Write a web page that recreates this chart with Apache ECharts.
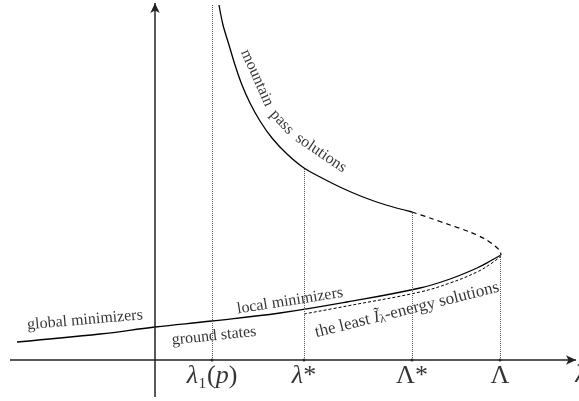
<!DOCTYPE html>
<html>
<head>
<meta charset="utf-8">
<script src="https://cdn.jsdelivr.net/npm/echarts@6/dist/echarts.min.js"></script>
<style>
  html, body { margin: 0; padding: 0; background: #fff; }
  #chart { width: 579px; height: 401px; }
</style>
</head>
<body>
<div id="chart"></div>
<script>
// values (origin = where the two axes cross)
var tickNames = ['{it|λ}{n|₁(}{it|p}{n|)}', '{it|λ}{n|*}', '{n|Λ*}', '{n|Λ}'];
var tickValues = [57, 149, 257, 345];
var guideTops = [355, 192, 148, 106];

// mountain pass branch (solid part, then dashed part up to the turning point)
var mountainX = [64, 68, 74, 80, 87, 95, 105, 117, 132, 149, 167, 187, 208, 231, 257];
var mountainY = [355, 335, 315, 295, 275, 257, 239, 222, 206, 192, 182, 172, 163, 155, 148];
var mountainDashX = [257, 275, 295, 315, 330, 340, 345, 346];
var mountainDashY = [148, 142, 135, 128, 121, 114, 109, 105];

// global / local minimizers branch
var minimizerX = [-138, -55, 0, 57, 125, 192, 265, 295, 322, 337, 346];
var minimizerY = [18, 26, 33, 39, 47, 58, 72, 81, 92, 100, 105];

// least energy solutions (dashed, just under the minimizers)
var leastX = [149, 192, 265, 295, 322, 337, 346];
var leastY = [46, 54, 68, 77, 88, 97, 104];

function pairs(xs, ys) {
  var out = [];
  for (var i = 0; i < xs.length; i++) out.push([xs[i], ys[i]]);
  return out;
}

var serifFont = 'Liberation Serif';
var rich = {
  it: { fontFamily: serifFont, fontStyle: 'italic', fontSize: 26, color: '#000' },
  n: { fontFamily: serifFont, fontSize: 26, color: '#000' }
};

// curve captions
var notes = [
  { text: 'global minimizers', at: [-70, 40], rot: 5 },
  { text: 'local minimizers', at: [135, 59], rot: 9 },
  { text: 'ground states', at: [59, 24], rot: 6 },
  { text: '{t|the least }{it|Ĩ}{s|λ}{t|-energy solutions}', at: [252, 50], rot: 14 },
  { text: 'mountain', at: [102, 282], rot: -66 },
  { text: 'pass', at: [127, 238], rot: -47 },
  { text: 'solutions', at: [166, 207], rot: -34 }
];

var chart = echarts.init(document.getElementById('chart'));

var guideLines = [];
for (var i = 0; i < tickValues.length; i++) {
  guideLines.push([{ coord: [tickValues[i], 0] }, { coord: [tickValues[i], guideTops[i]] }]);
}

var option = {
  animation: false,
  backgroundColor: '#fff',
  grid: { left: 0, right: 0, top: 0, bottom: 0 },
  xAxis: { type: 'value', min: -155, max: 424, show: false },
  yAxis: { type: 'value', min: -41, max: 360, show: false },
  series: [
    {
      name: 'guides',
      type: 'line',
      data: [],
      silent: true,
      markLine: {
        silent: true,
        symbol: 'none',
        label: { show: false },
        lineStyle: { type: 'dotted', color: '#555', width: 1 },
        data: guideLines
      }
    },
    {
      name: 'axes',
      type: 'line',
      data: [],
      silent: true,
      markLine: {
        silent: true,
        symbol: ['none', 'arrow'],
        symbolSize: [7, 10],
        label: { show: false },
        lineStyle: { type: 'solid', color: '#222', width: 1.5 },
        data: [
          [{ coord: [-145, 0] }, { coord: [421, 0] }],
          [{ coord: [0, -37] }, { coord: [0, 357] }]
        ]
      }
    },
    {
      name: 'mountain pass solutions',
      type: 'line',
      smooth: 0.3,
      showSymbol: false,
      lineStyle: { color: '#000', width: 1.3 },
      data: pairs(mountainX, mountainY)
    },
    {
      name: 'mountain pass (dashed)',
      type: 'line',
      smooth: 0.3,
      showSymbol: false,
      lineStyle: { color: '#000', width: 1.2, type: [5, 4] },
      data: pairs(mountainDashX, mountainDashY)
    },
    {
      name: 'minimizers',
      type: 'line',
      smooth: 0.4,
      showSymbol: false,
      lineStyle: { color: '#000', width: 1.3 },
      data: pairs(minimizerX, minimizerY)
    },
    {
      name: 'least energy',
      type: 'line',
      smooth: 0.4,
      showSymbol: false,
      lineStyle: { color: '#000', width: 1, type: [3, 2] },
      data: pairs(leastX, leastY)
    },
    {
      name: 'ticks',
      type: 'scatter',
      symbolSize: 3,
      itemStyle: { color: '#000' },
      label: {
        show: true,
        position: 'bottom',
        distance: 2,
        fontSize: 26,
        formatter: function (p) { return tickNames[p.dataIndex]; },
        rich: rich
      },
      data: pairs(tickValues, [0, 0, 0, 0])
    },
    {
      name: 'axis name',
      type: 'scatter',
      symbolSize: 0,
      clip: false,
      label: {
        show: true,
        position: 'bottom',
        distance: 2,
        fontSize: 26,
        formatter: '{it|λ}',
        rich: rich
      },
      data: [[426, 0]]
    },
    {
      name: 'notes',
      type: 'scatter',
      symbolSize: 0,
      silent: true,
      label: {
        show: true,
        position: 'inside',
        fontFamily: serifFont,
        fontSize: 16,
        color: '#000',
        formatter: function (p) { return notes[p.dataIndex].text; },
        rich: {
          t: { fontFamily: serifFont, fontSize: 17, color: '#000' },
          it: { fontFamily: serifFont, fontStyle: 'italic', fontSize: 17, color: '#000' },
          s: { fontFamily: serifFont, fontSize: 12, color: '#000', padding: [6, 0, 0, 0] }
        }
      },
      data: notes.map(function (n) {
        return { value: n.at, label: { rotate: n.rot } };
      })
    }
  ]
};

chart.setOption(option);
</script>
</body>
</html>
